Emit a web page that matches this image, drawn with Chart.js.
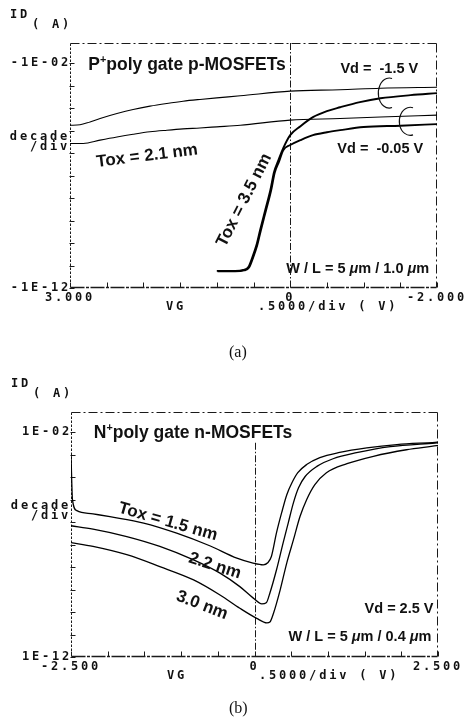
<!DOCTYPE html>
<html>
<head>
<meta charset="utf-8">
<title>ID–VG characteristics</title>
<script src="https://cdn.jsdelivr.net/npm/chart.js@4.4.1/dist/chart.umd.min.js"></script>
<style>
  html, body { margin:0; padding:0; background:#fff; }
  #page { position:relative; width:471px; height:717px; background:#fff; overflow:hidden; }
  canvas { position:absolute; left:0; background:#fff; }
  .cap { position:absolute; font-family:"Liberation Serif","Times New Roman",serif; font-size:16px; color:#111; line-height:1; }
</style>
</head>
<body>
<div id="page">
  <canvas id="chartA" width="471" height="360" style="top:0;width:471px;height:360px"></canvas>
  <canvas id="chartB" width="471" height="357" style="top:360px;width:471px;height:357px"></canvas>
  <div class="cap" style="left:229px;top:344px">(a)</div>
  <div class="cap" style="left:229px;top:700px">(b)</div>
</div>
<script>
// ================= DATA =================
// Panel (a): P+ poly gate p-MOSFETs, |ID| (A) vs VG (V)
const vgA_t21_vdHi = [3.0, 2.864, 2.727, 2.59, 2.36, 2.14, 1.91, 1.68, 1.46, 1.23, 1.0, 0.68, 0.0, -0.68, -1.23, -2.0];
const idA_t21_vdHi = [1.74e-5, 1.82e-5, 2.45e-5, 3.47e-5, 5.75e-5, 8.71e-5, 1.23e-4, 1.62e-4, 2.04e-4, 2.45e-4, 2.88e-4, 3.55e-4, 5.75e-4, 6.61e-4, 7.76e-4, 8.51e-4];

const vgA_t21_vdLo = [3.0, 2.82, 2.59, 2.36, 2.14, 1.91, 1.68, 1.46, 1.23, 1.0, 0.68, 0.0, -0.68, -1.23, -2.0];
const idA_t21_vdLo = [2.69e-6, 2.69e-6, 3.80e-6, 5.25e-6, 6.92e-6, 8.91e-6, 1.05e-5, 1.20e-5, 1.32e-5, 1.48e-5, 1.74e-5, 2.95e-5, 3.47e-5, 4.07e-5, 4.90e-5];

const vgA_t35_vdHi = [1.0, 0.75, 0.64, 0.57, 0.52, 0.46, 0.41, 0.34, 0.27, 0.22, 0.16, 0.095, 0.0, -0.14, -0.31, -0.50, -0.68, -0.95, -1.23, -1.64, -2.0];
const idA_t35_vdHi = [5.75e-12, 5.75e-12, 6.31e-12, 8.51e-12, 2.14e-11, 8.13e-11, 3.80e-10, 2.95e-9, 2.29e-8, 1.45e-7, 4.90e-7, 1.66e-6, 6.31e-6, 1.58e-5, 3.98e-5, 7.41e-5, 1.10e-4, 1.86e-4, 2.75e-4, 3.80e-4, 4.68e-4];

const vgA_t35_vdLo = [0.99, 0.75, 0.63, 0.56, 0.51, 0.45, 0.40, 0.33, 0.26, 0.21, 0.15, 0.095, 0.0, -0.14, -0.31, -0.50, -0.68, -1.0, -1.5, -2.0];
const idA_t35_vdLo = [5.50e-12, 5.50e-12, 6.03e-12, 8.13e-12, 2.04e-11, 7.76e-11, 3.63e-10, 2.82e-9, 2.19e-8, 1.38e-7, 4.37e-7, 1.35e-6, 2.29e-6, 3.80e-6, 6.31e-6, 8.51e-6, 1.05e-5, 1.45e-5, 1.66e-5, 1.95e-5];

// Panel (b): N+ poly gate n-MOSFETs, ID (A) vs VG (V), Vd = 2.5 V
const vgB_t15 = [-2.5, -2.48, -2.42, -2.20, -1.97, -1.51, -1.06, -0.61, -0.24, -0.02, 0.12, 0.18, 0.23, 0.30, 0.37, 0.44, 0.51, 0.59, 0.71, 0.89, 1.16, 1.53, 1.94, 2.46, 2.5];
const idB_t15 = [1.00e-3, 1.00e-5, 3.24e-6, 2.34e-6, 1.74e-6, 9.12e-7, 3.24e-7, 8.91e-8, 2.51e-8, 1.51e-8, 1.26e-8, 1.55e-8, 2.95e-8, 3.39e-7, 2.63e-6, 1.66e-5, 5.62e-5, 1.58e-4, 3.63e-4, 7.41e-4, 1.26e-3, 2.00e-3, 2.82e-3, 3.55e-3, 3.63e-3];

const vgB_t22 = [-2.5, -2.20, -1.74, -1.29, -0.83, -0.47, -0.20, -0.02, 0.10, 0.16, 0.21, 0.30, 0.39, 0.46, 0.53, 0.60, 0.69, 0.85, 1.07, 1.39, 1.85, 2.46, 2.5];
const idB_t22 = [6.92e-7, 4.90e-7, 2.29e-7, 8.32e-8, 2.09e-8, 5.37e-9, 1.35e-9, 4.27e-10, 2.29e-10, 2.57e-10, 7.08e-10, 7.59e-9, 1.20e-7, 9.33e-7, 7.24e-6, 3.39e-5, 1.07e-4, 3.02e-4, 6.61e-4, 1.23e-3, 2.29e-3, 3.31e-3, 3.39e-3];

const vgB_t30 = [-2.5, -2.20, -1.74, -1.29, -0.83, -0.47, -0.20, 0.03, 0.17, 0.21, 0.26, 0.35, 0.44, 0.53, 0.62, 0.71, 0.82, 0.98, 1.26, 1.62, 2.07, 2.48, 2.5];
const idB_t30 = [1.23e-7, 8.32e-8, 3.55e-8, 1.05e-8, 2.69e-9, 5.75e-10, 1.48e-10, 5.25e-11, 3.31e-11, 3.63e-11, 9.12e-11, 9.77e-10, 1.55e-8, 1.62e-7, 1.78e-6, 1.00e-5, 4.57e-5, 1.58e-4, 3.98e-4, 8.51e-4, 1.66e-3, 2.51e-3, 2.57e-3];

// Tick values / labels
const yTickValues = [1e-12, 1e-11, 1e-10, 1e-9, 1e-8, 1e-7, 1e-6, 1e-5, 1e-4, 1e-3, 1e-2];
const yTickTextA  = ['-1E-12', '', '', '', '', '', '', '', '', '', '-1E-02'];
const yTickTextB  = ['1E-12', '', '', '', '', '', '', '', '', '', '1E-02'];
const xLabelValA  = [3, 0, -2];
const xLabelTextA = ['3.000', '0', '-2.000'];
const xLabelValB  = [-2.5, 0, 2.5];
const xLabelTextB = ['-2.500', '0', '2.500'];

// ================= STYLE / HELPERS =================
const PLOT = '"DejaVu Sans Mono", "Liberation Mono", monospace';
const SANS = '"Liberation Sans", Arial, Helvetica, sans-serif';
const LS = '2.8px';
const INK = '#111';

function setLS(ctx, v) { if ('letterSpacing' in ctx) ctx.letterSpacing = v; }
function seg(t, o) { return Object.assign({ t: t }, o || {}); }
function series(vg, id, w) {
  return {
    data: vg.map((v, i) => ({ x: v, y: id[i] })),
    borderColor: '#000', borderWidth: w, pointRadius: 0, fill: false,
    cubicInterpolationMode: 'monotone'
  };
}
function line(ctx, x1, y1, x2, y2, dash) {
  ctx.setLineDash(dash || []);
  ctx.beginPath(); ctx.moveTo(x1, y1); ctx.lineTo(x2, y2); ctx.stroke();
}
function segFont(s, size) {
  const sz = s.sup ? size * 0.62 : size;
  return (s.italic ? 'italic ' : '') + 'bold ' + sz.toFixed(1) + 'px ' + SANS;
}
function drawAnno(ctx, xs, ys, an) {
  const px = xs.getPixelForValue(an.x), py = ys.getPixelForValue(an.y);
  ctx.save();
  ctx.translate(px, py);
  if (an.bracket) {
    ctx.lineWidth = 1.1; ctx.strokeStyle = INK; ctx.setLineDash([]);
    ctx.beginPath();
    ctx.ellipse(0, 0, an.rx, an.ry, 0, 0.42 * Math.PI, 1.58 * Math.PI);
    ctx.stroke();
    ctx.restore();
    return;
  }
  ctx.rotate((an.rot || 0) * Math.PI / 180);
  ctx.textBaseline = an.middle ? 'middle' : 'alphabetic';
  ctx.textAlign = 'left';
  ctx.fillStyle = INK;
  let w = 0;
  an.segs.forEach(s => { ctx.font = segFont(s, an.size); w += ctx.measureText(s.t).width; });
  let cx = an.align === 'center' ? -w / 2 : an.align === 'right' ? -w : 0;
  an.segs.forEach(s => {
    ctx.font = segFont(s, an.size);
    ctx.fillText(s.t, cx, s.sup ? -an.size * 0.42 : 0);
    cx += ctx.measureText(s.t).width;
  });
  ctx.restore();
}

// Plotter-style axis captions, placed relative to the plot frame
const axisTexts = [
  { t: 'ID',             from: 'left',  dx: -60, dy: -28, ref: 'top',    align: 'left' },
  { t: '( A)',           from: 'left',  dx: -38, dy: -18, ref: 'top',    align: 'left' },
  { t: 'decade',         from: 'left',  dx: 0,   dy: 94,  ref: 'top',    align: 'right' },
  { t: '/div',           from: 'left',  dx: 0,   dy: 104, ref: 'top',    align: 'right' },
  { t: 'VG',             from: 'left',  dx: 106, dy: 19,  ref: 'bottom', align: 'center' },
  { t: '.5000/div ( V)', from: 'left',  dx: 188, dy: 19,  ref: 'bottom', align: 'left' }
];

const plotterPlugin = {
  id: 'plotter',
  beforeDraw(chart) { setLS(chart.ctx, LS); },
  beforeDatasetsDraw(chart, args, o) {
    const ctx = chart.ctx, a = chart.chartArea, xs = chart.scales.x, ys = chart.scales.y;
    setLS(ctx, '0px');
    ctx.save();
    ctx.strokeStyle = '#1a1a1a'; ctx.lineWidth = 1;
    const L = Math.round(a.left) + 0.5, R = Math.round(a.right) - 0.5;
    const T = Math.round(a.top) + 0.5, B = Math.round(a.bottom) - 0.5;
    line(ctx, L, T, R, T, [9, 3, 2, 3]);
    line(ctx, R, T, R, B, [9, 3, 2, 3]);
    line(ctx, L, T, L, B, [2.5, 1.5]);
    ctx.lineWidth = 1.3;
    line(ctx, L, B, R, B, [14, 1.5, 3, 1.5]);
    ctx.lineWidth = 1;
    ys.ticks.forEach(t => { const y = Math.round(ys.getPixelForValue(t.value)) + 0.5; line(ctx, L - 1, y, L + 4, y, []); });
    xs.ticks.forEach(t => { const x = Math.round(xs.getPixelForValue(t.value)) + 0.5; line(ctx, x, B, x, B - 5, []); });
    const zx = Math.round(xs.getPixelForValue(0)) + 0.5;
    const zt = o.zeroFrom != null ? ys.getPixelForValue(o.zeroFrom) : a.top;
    line(ctx, zx, zt, zx, B, [7, 2, 1.5, 2]);
    ctx.restore();
  },
  afterDatasetsDraw(chart, args, o) {
    const ctx = chart.ctx, a = chart.chartArea, xs = chart.scales.x, ys = chart.scales.y;
    ctx.save();
    setLS(ctx, LS);
    ctx.fillStyle = INK;
    ctx.font = 'bold 12px ' + PLOT;
    ctx.textBaseline = 'middle';
    axisTexts.forEach(it => {
      ctx.textAlign = it.align;
      ctx.fillText(it.t, a[it.from] + it.dx, a[it.ref] + it.dy);
    });
    setLS(ctx, '0px');
    (o.annotations || []).forEach(an => drawAnno(ctx, xs, ys, an));
    ctx.restore();
  }
};

function makeChart(id, cfg) {
  const tickFont = { family: PLOT, size: 12, weight: 'bold' };
  return new Chart(document.getElementById(id), {
    type: 'line',
    data: { datasets: cfg.datasets },
    options: {
      responsive: false, animation: false, devicePixelRatio: 1,
      layout: { padding: cfg.padding },
      plugins: {
        legend: { display: false }, tooltip: { enabled: false },
        plotter: { annotations: cfg.annotations, zeroFrom: cfg.zeroFrom }
      },
      scales: {
        x: {
          type: 'linear', reverse: cfg.reverse, min: cfg.xmin, max: cfg.xmax,
          afterFit: s => { s.height = cfg.xHeight; },
          ticks: {
            stepSize: 0.5, autoSkip: false, maxRotation: 0, minRotation: 0, padding: 3,
            font: tickFont, color: INK,
            callback: v => { const k = cfg.xLabelVal.findIndex(q => Math.abs(q - v) < 1e-6); return k >= 0 ? cfg.xLabelText[k] : ''; }
          },
          grid: { display: false, drawTicks: false }, border: { display: false }
        },
        y: {
          type: 'logarithmic', min: 1e-12, max: 0.0794,
          afterFit: s => { s.width = cfg.yWidth; },
          afterBuildTicks: s => { s.ticks = yTickValues.map(v => ({ value: v })); },
          ticks: {
            autoSkip: false, padding: -1, font: tickFont, color: INK,
            callback: (v, i) => cfg.yText[i] || ''
          },
          grid: { display: false, drawTicks: false }, border: { display: false }
        }
      }
    },
    plugins: [plotterPlugin]
  });
}

// ---------- Panel (a) ----------
makeChart('chartA', {
  datasets: [
    series(vgA_t21_vdHi, idA_t21_vdHi, 1.1),
    series(vgA_t21_vdLo, idA_t21_vdLo, 1.1),
    series(vgA_t35_vdHi, idA_t35_vdHi, 1.9),
    series(vgA_t35_vdLo, idA_t35_vdLo, 1.9)
  ],
  padding: { left: 0, top: 43, right: 34, bottom: 0 },
  xHeight: 72, yWidth: 70, reverse: true, xmin: -2, xmax: 3,
  xLabelVal: xLabelValA, xLabelText: xLabelTextA, yText: yTickTextA,
  zeroFrom: null,
  annotations: [
    { segs: [seg('P'), seg('+', { sup: true }), seg('poly gate p-MOSFETs')], x: 1.405, y: 4.9e-3, size: 17.5, align: 'center' },
    { segs: [seg('Vd =  -1.5 V')], x: -1.214, y: 3.6e-3, size: 14.5, align: 'center' },
    { segs: [seg('Vd =  -0.05 V')], x: -1.227, y: 1.0e-6, size: 14.5, align: 'center' },
    { segs: [seg('Tox = 2.1 nm')], x: 1.95, y: 7.4e-7, size: 17, align: 'center', middle: true, rot: -7 },
    { segs: [seg('Tox = 3.5 nm')], x: 0.627, y: 8.1e-9, size: 17, align: 'center', middle: true, rot: -63 },
    { segs: [seg('W / L = 5 '), seg('μ', { italic: true }), seg('m / 1.0 '), seg('μ', { italic: true }), seg('m')], x: -0.92, y: 4.7e-12, size: 14.5, align: 'center' },
    { bracket: true, x: -1.35, y: 4.7e-4, rx: 11, ry: 15 },
    { bracket: true, x: -1.636, y: 2.6e-5, rx: 11, ry: 14 }
  ]
});

// ---------- Panel (b) ----------
makeChart('chartB', {
  datasets: [
    series(vgB_t15, idB_t15, 1.3),
    series(vgB_t22, idB_t22, 1.3),
    series(vgB_t30, idB_t30, 1.3)
  ],
  padding: { left: 0, top: 52, right: 33, bottom: 0 },
  xHeight: 60, yWidth: 71, reverse: false, xmin: -2.5, xmax: 2.5,
  xLabelVal: xLabelValB, xLabelText: xLabelTextB, yText: yTickTextB,
  zeroFrom: 3.4e-3,
  annotations: [
    { segs: [seg('N'), seg('+', { sup: true }), seg('poly gate n-MOSFETs')], x: -0.838, y: 5.5e-3, size: 17.5, align: 'center' },
    { segs: [seg('Tox = 1.5 nm')], x: -1.18, y: 1.03e-6, size: 17, align: 'center', middle: true, rot: 16 },
    { segs: [seg('2.2 nm')], x: -0.54, y: 1.12e-8, size: 17, align: 'center', middle: true, rot: 18 },
    { segs: [seg('3.0 nm')], x: -0.715, y: 2.0e-10, size: 17, align: 'center', middle: true, rot: 21 },
    { segs: [seg('Vd = 2.5 V')], x: 1.969, y: 9.1e-11, size: 14.5, align: 'center' },
    { segs: [seg('W / L = 5 '), seg('μ', { italic: true }), seg('m / 0.4 '), seg('μ', { italic: true }), seg('m')], x: 1.437, y: 5.1e-12, size: 14.5, align: 'center' }
  ]
});
</script>
</body>
</html>
